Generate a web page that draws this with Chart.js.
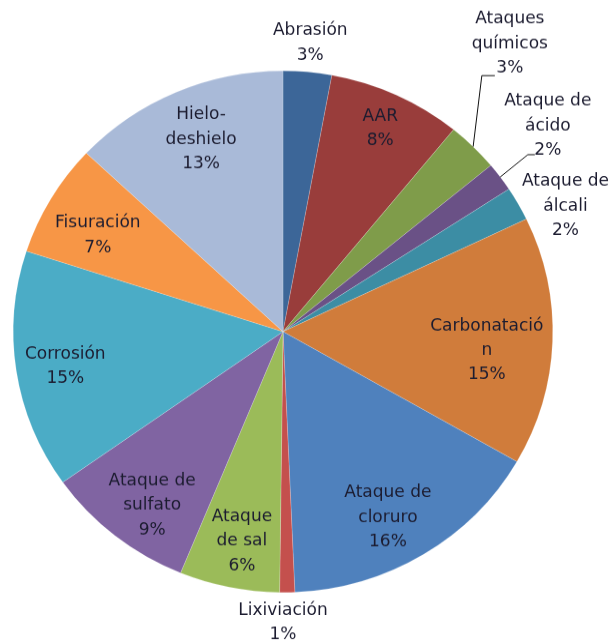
<!DOCTYPE html>
<html><head><meta charset="utf-8">
<script src="https://cdn.jsdelivr.net/npm/chart.js@4.4.1/dist/chart.umd.min.js"></script>
<style>
html,body{margin:0;padding:0;background:#fff;overflow:hidden}
</style></head><body>
<canvas id="c" width="612" height="664" style="display:block;width:612px;height:642px"></canvas>
<script>
const categories = ["Abrasión","AAR","Ataques químicos","Ataque de ácido","Ataque de álcali","Carbonatación","Ataque de cloruro","Lixiviación","Ataque de sal","Ataque de sulfato","Corrosión","Fisuración","Hielo-deshielo"];
const labelLines = [["Abrasión"],["AAR"],["Ataques","químicos"],["Ataque de","ácido"],["Ataque de","álcali"],["Carbonatació","n"],["Ataque de","cloruro"],["Lixiviación"],["Ataque","de sal"],["Ataque de","sulfato"],["Corrosión"],["Fisuración"],["Hielo-","deshielo"]];
const values = [2.9, 8.0, 3.1, 1.8, 2.1, 15.4, 16.0, 0.9, 6.0, 9.0, 14.8, 7.0, 13.0];
const colors = ["#3C6698","#993D3B","#7F9C4A","#6A5186","#3C8DA4","#D07C3B","#4F81BD","#C4504D","#9BBB59","#8064A2","#4BACC6","#F79646","#A9BAD8"];

// label placement: radius factor f, angle offset da (deg), optional leader line
const placement = [
  {f:1.111, da:0},
  {f:0.858, da:0},
  {f:1.387, da:-7.5, leader:{x1:-28, x2:-15, dy:7.3}},
  {f:1.259, da:-2.4, leader:{x1:-20, x2:-13, dy:4.2}},
  {f:1.152, da:4.7},
  {f:0.759, da:3.3},
  {f:0.812, da:2.7},
  {f:1.117, da:0.9},
  {f:0.819, da:-0.8},
  {f:0.825, da:-2.5},
  {f:0.818, da:-0.7},
  {f:0.779, da:-2.4},
  {f:0.797, da:1.0}
];

const labelPlugin = {
  id: 'sliceLabels',
  afterDatasetsDraw(chart, args, opts) {
    const ctx = chart.ctx;
    const meta = chart.getDatasetMeta(0);
    const data = chart.data.datasets[0].data;
    const total = data.reduce((a, b) => a + b, 0);
    ctx.save();
    ctx.font = opts.font;
    ctx.fillStyle = opts.color;
    ctx.strokeStyle = opts.lineColor;
    ctx.lineWidth = 1;
    ctx.textAlign = 'center';
    ctx.textBaseline = 'middle';
    meta.data.forEach((arc, i) => {
      const p = arc.getProps(['x','y','startAngle','endAngle','outerRadius'], true);
      const place = placement[i];
      const mid = (p.startAngle + p.endAngle) / 2;
      const a = mid + place.da * Math.PI / 180;
      const px = p.x + Math.cos(a) * p.outerRadius * place.f;
      const py = p.y + Math.sin(a) * p.outerRadius * place.f;
      const lines = labelLines[i].concat([Math.round(data[i] / total * 100) + '%']);
      const lh = opts.lineHeight;
      const y0 = py - (lines.length - 1) * lh / 2;
      lines.forEach((t, k) => ctx.fillText(t, px, y0 + k * lh));
      if (place.leader) {
        const ex = p.x + Math.cos(mid) * p.outerRadius;
        const ey = p.y + Math.sin(mid) * p.outerRadius;
        const by = y0 + (lines.length - 1) * lh + place.leader.dy;
        ctx.beginPath();
        ctx.moveTo(ex, ey);
        ctx.lineTo(px + place.leader.x1, by);
        ctx.lineTo(px + place.leader.x2, by);
        ctx.stroke();
      }
    });
    ctx.restore();
  }
};

new Chart(document.getElementById('c'), {
  type: 'pie',
  data: {
    labels: categories,
    datasets: [{
      data: values,
      backgroundColor: colors,
      borderColor: 'rgba(255,255,255,0.35)',
      borderWidth: 0.5
    }]
  },
  options: {
    responsive: false,
    animation: false,
    devicePixelRatio: 1,
    layout: { padding: { left: 13, right: 59, top: 73, bottom: 51 } },
    plugins: {
      legend: { display: false },
      tooltip: { enabled: false },
      sliceLabels: { font: '17px "DejaVu Sans"', color: '#1c1c30', lineColor: '#111', lineHeight: 25.4 }
    }
  },
  plugins: [labelPlugin]
});
</script>
</body></html>
